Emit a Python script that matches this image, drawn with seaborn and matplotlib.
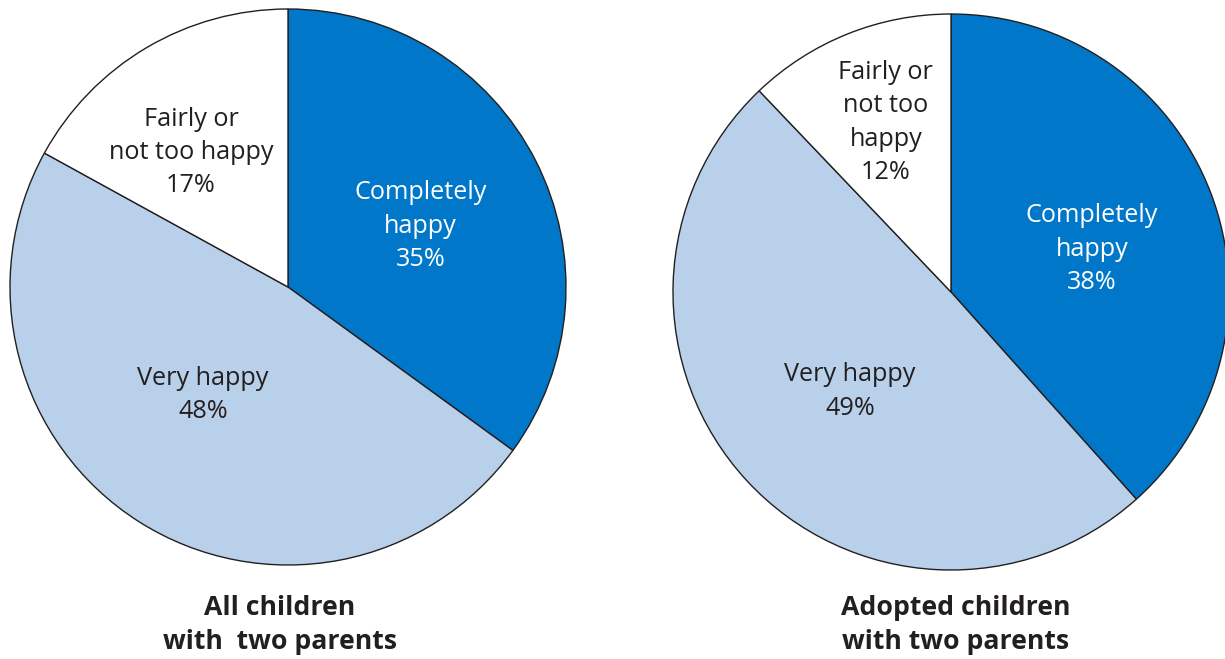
import matplotlib.pyplot as plt
import seaborn as sns
import numpy as np

sns.set_theme(style="white")
plt.rcParams['font.family'] = ['Open Sans', 'DejaVu Sans']

categories = ["Completely\nhappy", "Very happy", "Fairly or\nnot too happy"]
all_children = [35, 48, 17]
adopted_labels = ["Completely\nhappy", "Very happy", "Fairly or\nnot too\nhappy"]
adopted_children = [38, 49, 12]
titles = ["All children\nwith  two parents", "Adopted children\nwith two parents"]

colors = ["#0077c8", "#b9d0ea", "#ffffff"]
text_colors = ["white", "#231f20", "#231f20"]

fig = plt.figure(figsize=(12.25, 6.59), dpi=100)

# axes placed so each pie sits where it does in the reference
ax_left = fig.add_axes([10 / 1225, 94 / 659, 556 / 1225, 556 / 659])
ax_right = fig.add_axes([673 / 1225, 89 / 659, 556 / 1225, 556 / 659])


def draw_pie(ax, values, labels, label_dist, label_shift, title, title_x):
    wedges, _ = ax.pie(
        values,
        colors=colors,
        startangle=90,
        counterclock=False,
        radius=1,
        wedgeprops={"edgecolor": "#231f20", "linewidth": 1.0},
    )
    for w, lab, val, d, s, tc in zip(wedges, labels, values, label_dist, label_shift, text_colors):
        mid = np.deg2rad((w.theta1 + w.theta2) / 2 + s)
        ax.text(d * np.cos(mid), d * np.sin(mid), f"{lab}\n{val}%",
                ha="center", va="center", fontsize=18.2, color=tc,
                linespacing=1.44)
    ax.set_xlim(-1, 1)
    ax.set_ylim(-1, 1)
    ax.set_aspect("equal")
    ax.axis("off")
    fig.text(title_x, 34 / 659, title, ha="center", va="center",
             fontsize=19.2, fontweight="bold", color="#231f20", linespacing=1.38)


draw_pie(ax_left, all_children, categories, [0.525, 0.494, 0.596], [-2.3, -5.8, 5.2],
         titles[0], 280 / 1225)
draw_pie(ax_right, adopted_children, adopted_labels, [0.53, 0.51, 0.653], [-4, 1.9, -0.8],
         titles[1], 956 / 1225)

fig.savefig("out.png", dpi=100)
